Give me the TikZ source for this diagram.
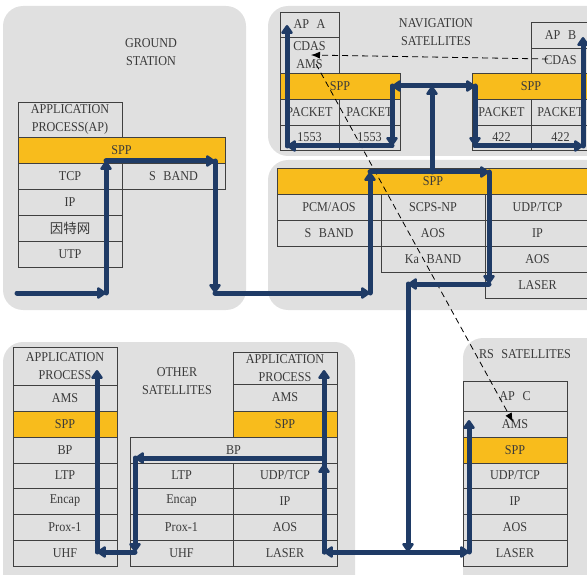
\documentclass[tikz,border=0pt]{standalone}
\usepackage{fontspec}
\setmainfont{Liberation Serif}[FakeStretch=0.9, WordSpace=2.5]
\newfontfamily\cjk{Noto Sans CJK SC}
\usetikzlibrary{arrows.meta}
\definecolor{panelgray}{HTML}{E0E0E0}
\definecolor{sppfill}{HTML}{F8BC1C}
\definecolor{navy}{HTML}{1F3B66}
\definecolor{txt}{HTML}{3A3A3A}
\definecolor{edge}{HTML}{404040}
\tikzset{
  panel/.style={fill=panelgray, rounded corners=20pt},
  cellbox/.style={draw=edge, line width=0.8pt, inner sep=0pt, outer sep=0pt, align=center,
    text=txt, font=\fontsize{13.5}{18}\selectfont},
  sppcell/.style={fill=sppfill},
  lbl/.style={inner sep=0pt, align=center, text=txt, font=\fontsize{13.5}{18}\selectfont},
  flow/.style={draw=navy, line width=5pt, line cap=round, line join=round,
    -{Triangle[width=13pt,length=10pt,round]}},
  dashline/.style={draw=black, line width=0.8pt, dash pattern=on 6pt off 4pt,
    -{Latex[length=9pt,width=7pt]}}
}
\newcommand\cell[7][]{\node[cellbox,#1,minimum width=#5pt,minimum height=#6pt,anchor=north west] (#2) at (#3,#4) {#7};}
\begin{document}
\begin{tikzpicture}[x=1pt,y=-1pt]
\useasboundingbox (0,0) rectangle (587,575);
% panels
\fill[panel] (3,6) rectangle (246,310);
\fill[panel] (268,6) rectangle (620,156);
\fill[panel] (268,160) rectangle (620,310);
\fill[panel] (3,342) rectangle (355,610);
\fill[panel] (463,338) rectangle (620,610);
% titles
\node[lbl] (tground) at (151,52) {GROUND\\STATION};
\node[lbl] (tnav) at (436,32) {NAVIGATION\\SATELLITES};
\node[lbl] (tother) at (177,381) {OTHER\\SATELLITES};
\node[lbl] (trs) at (525,354) {RS SATELLITES};
% ground station
\cell{gap}{18}{102}{104}{35}{APPLICATION\\PROCESS(AP)}
\cell[sppcell]{gspp}{18}{137}{207}{26}{SPP}
\cell{gtcp}{18}{163}{104}{26}{TCP}
\cell{gsband}{122}{163}{103}{26}{S BAND}
\cell{gip}{18}{189}{104}{26}{IP}
\cell{gnet}{18}{215}{104}{26}{\cjk 因特网}
\cell{gutp}{18}{241}{104}{26}{UTP}
% navigation upper
\cell{apa}{280}{12}{59}{25}{AP A}
\cell{cdasa}{280}{37}{59}{36}{CDAS\\AMS}
\cell[sppcell]{sppa}{280}{73}{120}{26}{SPP}
\cell{pkta1}{280}{99}{59}{26}{PACKET}
\cell{pkta2}{339}{99}{61}{26}{PACKET}
\cell{ma1}{280}{125}{59}{25}{1553}
\cell{ma2}{339}{125}{61}{25}{1553}
\cell{apb}{531}{22}{59}{26}{AP B}
\cell{cdasb}{531}{48}{59}{25}{CDAS}
\cell[sppcell]{sppb}{472}{73}{118}{26}{SPP}
\cell{pktb1}{472}{99}{59}{26}{PACKET}
\cell{pktb2}{531}{99}{59}{26}{PACKET}
\cell{mb1}{472}{125}{59}{25}{422}
\cell{mb2}{531}{125}{59}{25}{422}
% navigation lower
\cell[sppcell]{sppn}{277}{168}{313}{26}{}
\node[lbl] (sppnl) at (433,181) {SPP};
\cell{pcm}{277}{194}{104}{26}{PCM/AOS}
\cell{scps}{381}{194}{104}{26}{SCPS-NP}
\cell{udpn}{485}{194}{105}{26}{UDP/TCP}
\cell{sbn}{277}{220}{104}{26}{S BAND}
\cell{aosn}{381}{220}{104}{26}{AOS}
\cell{ipn}{485}{220}{105}{26}{IP}
\cell{kan}{381}{246}{104}{26}{Ka BAND}
\cell{aosn2}{485}{246}{105}{26}{AOS}
\cell{lasern}{485}{272}{105}{26}{LASER}
% other satellites left
\cell{oap}{13}{347}{104}{38}{APPLICATION\\PROCESS}
\cell{oams}{13}{385}{104}{26}{AMS}
\cell[sppcell]{ospp}{13}{411}{104}{26}{SPP}
\cell{obp}{13}{437}{104}{26}{BP}
\cell{oltp}{13}{463}{104}{25}{LTP}
\cell{oenc}{13}{488}{104}{26}{Encap}
\cell{oprox}{13}{514}{104}{26}{Prox-1}
\cell{ouhf}{13}{540}{104}{26}{UHF}
% other satellites right
\cell{rap}{233}{352}{104}{32}{APPLICATION\\PROCESS}
\cell{rams}{233}{384}{104}{27}{AMS}
\cell[sppcell]{rspp}{233}{411}{104}{26}{SPP}
\cell{rbp}{130}{437}{207}{26}{BP}
\cell{rltp}{130}{463}{103}{25}{LTP}
\cell{rudp}{233}{463}{104}{25}{UDP/TCP}
\cell{renc}{130}{488}{103}{26}{Encap}
\cell{rip}{233}{488}{104}{26}{IP}
\cell{rprox}{130}{514}{103}{26}{Prox-1}
\cell{raos}{233}{514}{104}{26}{AOS}
\cell{ruhf}{130}{540}{103}{26}{UHF}
\cell{rlaser}{233}{540}{104}{26}{LASER}
% RS satellites
\cell{sapc}{463}{381}{104}{30}{AP C}
\cell{sams}{463}{411}{104}{26}{AMS}
\cell[sppcell]{sspp}{463}{437}{104}{26}{SPP}
\cell{sudp}{463}{463}{104}{25}{UDP/TCP}
\cell{sip}{463}{488}{104}{26}{IP}
\cell{saos}{463}{514}{104}{26}{AOS}
\cell{slaser}{463}{540}{104}{26}{LASER}
% dashed links
\coordinate (d0) at (548,59);
\coordinate (d1) at (311,55);
\coordinate (d2) at (316,64);
\coordinate (d3) at (513,422);
\draw[dashline] (d0) -- (d1);
\draw[dashline] (d2) -- (d3);
% flow coordinates
\coordinate (a0) at (17,293);
\coordinate (a1) at (106,293);
\coordinate (a2) at (106,161);
\coordinate (a3) at (215,161);
\coordinate (a4) at (215,293);
\coordinate (a5) at (370,293);
\coordinate (a6) at (370,172);
\coordinate (a7) at (489,172);
\coordinate (a8) at (489,284);
\coordinate (a9) at (408,284);
\coordinate (a10) at (408,552);
\coordinate (a11) at (324,552);
\coordinate (a12) at (469,552);
\coordinate (a13) at (469,420);
\coordinate (b0) at (324,464);
\coordinate (b1) at (324,458);
\coordinate (b2) at (324,370);
\coordinate (b3) at (135,458);
\coordinate (b4) at (135,552);
\coordinate (b5) at (97,552);
\coordinate (b6) at (97,370);
\coordinate (n0) at (432,172);
\coordinate (n1) at (432,86);
\coordinate (n2) at (392,86);
\coordinate (n3) at (392,146);
\coordinate (n4) at (287,146);
\coordinate (n5) at (287,25);
\coordinate (n6) at (475,86);
\coordinate (n7) at (475,146);
\coordinate (n8) at (583,146);
\coordinate (n9) at (583,37);
% flows
\draw[flow] (a0) -- (a1);
\draw[flow] (a1) -- (a2);
\draw[flow] (a2) -- (a3);
\draw[flow] (a3) -- (a4);
\draw[flow] (a4) -- (a5);
\draw[flow] (a5) -- (a6);
\draw[flow] (a6) -- (a7);
\draw[flow] (a7) -- (a8);
\draw[flow] (a8) -- (a9);
\draw[flow] (a9) -- (a10);
\draw[flow] (a10) -- (a11);
\draw[flow] (a10) -- (a12);
\draw[flow] (a12) -- (a13);
\draw[flow] (a11) -- (b0);
\draw[flow] (a11) -- (b2);
\draw[flow] (b1) -- (b3);
\draw[flow] (b3) -- (b4);
\draw[flow] (b4) -- (b5);
\draw[flow] (b5) -- (b6);
\draw[flow] (n0) -- (n1);
\draw[flow] (n1) -- (n2);
\draw[flow] (n2) -- (n3);
\draw[flow] (n3) -- (n4);
\draw[flow] (n4) -- (n5);
\draw[flow] (n1) -- (n6);
\draw[flow] (n6) -- (n7);
\draw[flow] (n7) -- (n8);
\draw[flow] (n8) -- (n9);
\end{tikzpicture}
\end{document}
